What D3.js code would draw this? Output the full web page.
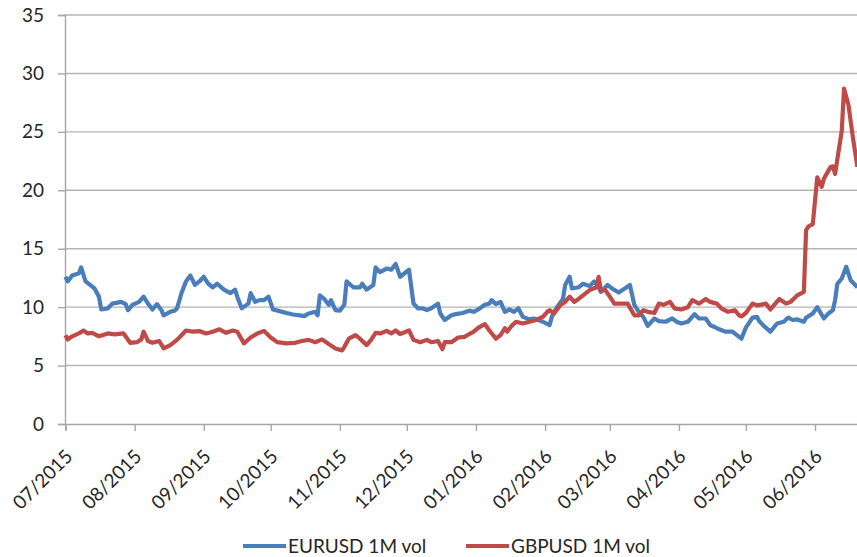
<!DOCTYPE html>
<html>
<head>
<meta charset="utf-8">
<script src="https://cdn.jsdelivr.net/npm/d3@7"></script>
<style>
  body { margin: 0; background: #fff; }
  svg text { font-family: Lato, "Open Sans", sans-serif; fill: #262626; }
</style>
</head>
<body>
<svg width="857" height="557"></svg>
<script>
var yTicks = [0, 5, 10, 15, 20, 25, 30, 35];
var monthTicks = ["2015-07-01","2015-08-01","2015-09-01","2015-10-01","2015-11-01","2015-12-01",
                  "2016-01-01","2016-02-01","2016-03-01","2016-04-01","2016-05-01","2016-06-01"];
var seriesNames = ["EURUSD 1M vol", "GBPUSD 1M vol"];

var eurDates = ["2015-07-01","2015-07-02","2015-07-04","2015-07-07","2015-07-08","2015-07-10","2015-07-12","2015-07-14","2015-07-16","2015-07-17",
  "2015-07-20","2015-07-22","2015-07-26","2015-07-28","2015-07-29","2015-07-31","2015-08-03","2015-08-05","2015-08-07","2015-08-09",
  "2015-08-11","2015-08-13","2015-08-14","2015-08-17","2015-08-19","2015-08-20","2015-08-22","2015-08-24","2015-08-26","2015-08-28",
  "2015-08-30","2015-09-01","2015-09-03","2015-09-05","2015-09-07","2015-09-10","2015-09-13","2015-09-15","2015-09-16","2015-09-18",
  "2015-09-21","2015-09-22","2015-09-24","2015-09-26","2015-09-28","2015-09-30","2015-10-02","2015-10-05","2015-10-08","2015-10-11",
  "2015-10-14","2015-10-16","2015-10-18","2015-10-21","2015-10-22","2015-10-23","2015-10-25","2015-10-27","2015-10-28","2015-10-30",
  "2015-11-01","2015-11-03","2015-11-04","2015-11-07","2015-11-10","2015-11-11","2015-11-13","2015-11-16","2015-11-17","2015-11-19",
  "2015-11-22","2015-11-24","2015-11-26","2015-11-28","2015-11-30","2015-12-02","2015-12-04","2015-12-06","2015-12-08","2015-12-10",
  "2015-12-12","2015-12-15","2015-12-16","2015-12-18","2015-12-21","2015-12-23","2015-12-26","2015-12-29","2015-12-31","2016-01-02",
  "2016-01-05","2016-01-07","2016-01-08","2016-01-10","2016-01-12","2016-01-14","2016-01-16","2016-01-18","2016-01-20","2016-01-22",
  "2016-01-25","2016-01-27","2016-01-29","2016-01-31","2016-02-03","2016-02-04","2016-02-06","2016-02-09","2016-02-10","2016-02-12",
  "2016-02-13","2016-02-16","2016-02-18","2016-02-21","2016-02-23","2016-02-25","2016-02-26","2016-02-29","2016-03-02","2016-03-05",
  "2016-03-07","2016-03-10","2016-03-12","2016-03-14","2016-03-16","2016-03-18","2016-03-21","2016-03-23","2016-03-26","2016-03-29",
  "2016-03-31","2016-04-02","2016-04-05","2016-04-08","2016-04-10","2016-04-13","2016-04-15","2016-04-17","2016-04-19","2016-04-22",
  "2016-04-25","2016-04-27","2016-04-29","2016-05-01","2016-05-04","2016-05-06","2016-05-07","2016-05-09","2016-05-12","2016-05-15",
  "2016-05-18","2016-05-20","2016-05-22","2016-05-24","2016-05-27","2016-05-28","2016-05-31","2016-06-02","2016-06-05","2016-06-07",
  "2016-06-09","2016-06-10","2016-06-11","2016-06-13","2016-06-15","2016-06-17","2016-06-20"];
var eurVol = [12.6,12.2,12.7,12.9,13.4,12.2,11.9,11.6,10.9,9.8,
  9.9,10.3,10.45,10.26,9.74,10.2,10.45,10.9,10.3,9.8,
  10.26,9.74,9.3,9.6,9.7,9.9,11.2,12.2,12.7,11.9,
  12.2,12.6,12.0,11.7,12.0,11.5,11.2,11.5,10.9,9.9,
  10.3,11.2,10.45,10.6,10.6,10.9,9.8,9.66,9.5,9.37,
  9.3,9.23,9.46,9.6,9.3,11.0,10.7,10.2,10.6,9.74,
  9.7,10.2,12.2,11.7,11.7,12.0,11.5,11.9,13.4,13.0,
  13.3,13.2,13.7,12.6,12.9,13.2,10.3,9.9,9.9,9.74,
  9.9,10.3,9.46,8.9,9.3,9.4,9.5,9.7,9.6,9.8,
  10.2,10.3,10.6,10.26,10.45,9.6,9.8,9.6,9.9,9.17,
  8.95,9.03,8.9,8.75,8.46,9.17,9.9,10.7,11.9,12.6,
  11.6,11.7,12.0,11.8,12.2,11.7,11.3,11.9,11.6,11.25,
  11.5,11.9,10.2,9.6,9.17,8.4,9.03,8.8,8.75,9.03,
  8.75,8.6,8.75,9.4,9.03,9.03,8.46,8.3,8.1,7.9,
  7.9,7.6,7.3,8.25,9.1,9.17,8.8,8.4,7.9,8.6,
  8.75,9.1,8.9,8.95,8.75,9.1,9.46,10.0,9.03,9.46,
  9.74,10.6,12.0,12.45,13.45,12.3,11.7];

var gbpDates = ["2015-07-01","2015-07-02","2015-07-04","2015-07-07","2015-07-09","2015-07-11","2015-07-13","2015-07-16","2015-07-20","2015-07-23",
  "2015-07-27","2015-07-30","2015-08-02","2015-08-04","2015-08-05","2015-08-07","2015-08-09","2015-08-12","2015-08-14","2015-08-17",
  "2015-08-20","2015-08-22","2015-08-24","2015-08-27","2015-08-30","2015-09-02","2015-09-05","2015-09-08","2015-09-11","2015-09-14",
  "2015-09-16","2015-09-19","2015-09-22","2015-09-25","2015-09-28","2015-10-01","2015-10-04","2015-10-08","2015-10-12","2015-10-15",
  "2015-10-18","2015-10-21","2015-10-24","2015-10-27","2015-10-30","2015-11-02","2015-11-03","2015-11-05","2015-11-08","2015-11-10",
  "2015-11-13","2015-11-15","2015-11-17","2015-11-19","2015-11-22","2015-11-24","2015-11-26","2015-11-28","2015-12-02","2015-12-04",
  "2015-12-07","2015-12-10","2015-12-12","2015-12-15","2015-12-17","2015-12-18","2015-12-21","2015-12-24","2015-12-27","2015-12-29",
  "2015-12-31","2016-01-02","2016-01-05","2016-01-07","2016-01-10","2016-01-12","2016-01-14","2016-01-15","2016-01-17","2016-01-19",
  "2016-01-22","2016-01-25","2016-01-28","2016-01-31","2016-02-02","2016-02-03","2016-02-05","2016-02-08","2016-02-10","2016-02-12",
  "2016-02-14","2016-02-16","2016-02-18","2016-02-20","2016-02-21","2016-02-24","2016-02-25","2016-02-26","2016-02-28","2016-03-01",
  "2016-03-03","2016-03-06","2016-03-09","2016-03-12","2016-03-14","2016-03-16","2016-03-18","2016-03-21","2016-03-23","2016-03-25",
  "2016-03-28","2016-03-30","2016-04-02","2016-04-05","2016-04-07","2016-04-10","2016-04-13","2016-04-15","2016-04-18","2016-04-20",
  "2016-04-23","2016-04-26","2016-04-28","2016-04-29","2016-05-01","2016-05-04","2016-05-06","2016-05-10","2016-05-12","2016-05-16",
  "2016-05-19","2016-05-21","2016-05-24","2016-05-27","2016-05-28","2016-05-29","2016-05-31","2016-06-02","2016-06-04","2016-06-05",
  "2016-06-08","2016-06-09","2016-06-10","2016-06-13","2016-06-14","2016-06-16","2016-06-18","2016-06-20"];
var gbpVol = [7.6,7.24,7.5,7.75,8.0,7.75,7.8,7.5,7.75,7.67,
  7.75,6.95,7.0,7.24,7.9,7.1,6.95,7.1,6.47,6.75,
  7.2,7.6,8.0,7.9,7.95,7.75,7.9,8.1,7.8,8.0,
  7.9,6.9,7.4,7.75,7.97,7.4,7.0,6.9,6.95,7.1,
  7.2,7.0,7.24,6.84,6.47,6.3,6.6,7.3,7.6,7.3,
  6.75,7.2,7.8,7.75,7.97,7.75,8.0,7.7,8.0,7.2,
  7.0,7.2,7.0,7.1,6.4,7.0,7.0,7.4,7.46,7.7,
  7.9,8.23,8.55,8.0,7.3,7.6,8.2,7.9,8.4,8.75,
  8.6,8.75,8.9,9.17,9.6,9.74,9.46,10.2,10.45,10.9,
  10.45,10.7,11.0,11.3,11.45,11.7,12.6,11.45,11.45,10.9,
  10.3,10.3,10.3,9.3,9.3,9.74,9.6,9.5,10.3,10.2,
  10.45,9.9,9.8,10.0,10.6,10.3,10.7,10.45,10.3,9.9,
  9.6,9.74,9.3,9.2,9.5,10.3,10.15,10.3,9.8,10.7,
  10.3,10.45,11.0,11.3,16.6,16.9,17.1,21.1,20.3,21.0,
  22.0,22.05,21.4,25.1,28.7,27.3,24.5,22.0];

var colors = ["#4a7ebb", "#be4b48"];

var parse = d3.timeParse("%Y-%m-%d");
var svg = d3.select("svg");

var x = d3.scaleTime()
  .domain([parse("2015-07-01"), parse("2016-06-20")])
  .range([65.5, 857.4]);
var y = d3.scaleLinear()
  .domain([0, 35])
  .range([424, 15]);

// gridlines
svg.append("g")
  .selectAll("line")
  .data(yTicks.filter(function(d) { return d > 0; }))
  .enter()
  .append("line")
  .attr("x1", 65).attr("x2", 857)
  .attr("y1", function(d) { return y(d); })
  .attr("y2", function(d) { return y(d); })
  .attr("stroke", "#b4b4b4")
  .attr("stroke-width", 1.4);

// y axis
var yAxis = svg.append("g")
  .attr("transform", "translate(65,0)")
  .call(d3.axisLeft(y).tickValues(yTicks).tickSize(7).tickPadding(14));
yAxis.select(".domain").attr("stroke", "#a6a6a6").attr("stroke-width", 1.4);
yAxis.selectAll(".tick line").attr("stroke", "#a6a6a6").attr("stroke-width", 1.4);
yAxis.selectAll("text").style("font-size", "19px").attr("fill", "#262626");

// x axis
var xAxis = svg.append("g")
  .attr("transform", "translate(0,424)")
  .call(d3.axisBottom(x).tickValues(monthTicks.map(parse)).tickSize(7).tickFormat(d3.timeFormat("%m/%Y")));
xAxis.select(".domain").attr("stroke", "#a6a6a6").attr("stroke-width", 1.4);
xAxis.selectAll(".tick line").attr("stroke", "#a6a6a6").attr("stroke-width", 1.4);
xAxis.selectAll("text")
  .style("font-size", "19px")
  .attr("fill", "#262626")
  .attr("text-anchor", "end")
  .attr("dy", "0.35em")
  .attr("transform", "translate(3,29) rotate(-45)")
  .attr("y", 0);

// lines
var line = d3.line()
  .x(function(d) { return x(d.date); })
  .y(function(d) { return y(d.value); });

var series = [
  eurDates.map(function(d, i) { return { date: parse(d), value: eurVol[i] }; }),
  gbpDates.map(function(d, i) { return { date: parse(d), value: gbpVol[i] }; })
];

svg.append("g")
  .selectAll("path")
  .data(series)
  .enter()
  .append("path")
  .attr("d", line)
  .attr("fill", "none")
  .attr("stroke", function(d, i) { return colors[i]; })
  .attr("stroke-width", 4.2)
  .attr("stroke-linejoin", "round");

// legend
var legendX = [243, 466];
var legend = svg.append("g")
  .selectAll("g")
  .data(seriesNames)
  .enter()
  .append("g")
  .attr("transform", function(d, i) { return "translate(" + legendX[i] + ",546)"; });
legend.append("line")
  .attr("x1", 0).attr("x2", 43)
  .attr("stroke", function(d, i) { return colors[i]; })
  .attr("stroke-width", 4.2);
legend.append("text")
  .attr("x", 45)
  .attr("dy", "0.35em")
  .style("font-size", "19px")
  .text(function(d) { return d; });
</script>
</body>
</html>
